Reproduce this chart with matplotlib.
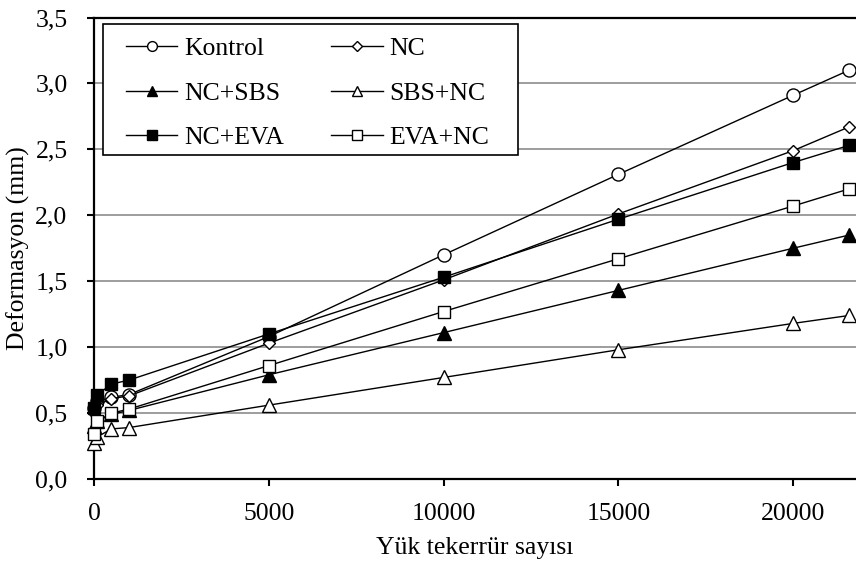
import matplotlib
matplotlib.use("Agg")
import matplotlib.pyplot as plt
from matplotlib.patches import Rectangle
from matplotlib.ticker import FuncFormatter

plt.rcParams["font.family"] = ["Liberation Serif", "DejaVu Serif"]

# load repetitions and measured deformation (mm)
cycles = [0, 100, 500, 1000, 5000, 10000, 15000, 20000, 21600]
kontrol = [0.54, 0.59, 0.62, 0.64, 1.08, 1.70, 2.31, 2.91, 3.10]
nc = [0.50, 0.56, 0.61, 0.63, 1.03, 1.51, 2.01, 2.49, 2.67]
nc_sbs = [0.40, 0.44, 0.49, 0.52, 0.79, 1.11, 1.43, 1.75, 1.85]
sbs_nc = [0.27, 0.32, 0.38, 0.39, 0.56, 0.77, 0.98, 1.18, 1.24]
nc_eva = [0.54, 0.64, 0.72, 0.75, 1.10, 1.53, 1.97, 2.40, 2.53]
eva_nc = [0.34, 0.44, 0.50, 0.53, 0.86, 1.27, 1.67, 2.07, 2.20]

series = [
    ("Kontrol", kontrol, "o", "white", 9.4),
    ("NC", nc, "D", "white", 6.4),
    ("NC+SBS", nc_sbs, "^", "black", 9.6),
    ("SBS+NC", sbs_nc, "^", "white", 9.6),
    ("NC+EVA", nc_eva, "s", "black", 9.2),
    ("EVA+NC", eva_nc, "s", "white", 9.2),
]

FS = 18.5
W, H = 856, 563

fig = plt.figure(figsize=(W / 100, H / 100), dpi=100)
ax = fig.add_axes([94 / W, 1 - 479 / H, 1 - 94 / W, (479 - 17.5) / H])

handles = {}
for label, vals, mk, face, ms in series:
    ln, = ax.plot(cycles, vals, "-", color="black", lw=1.0, marker=mk, ms=ms,
                  markerfacecolor=face, markeredgecolor="black", mew=1.0,
                  label=label, clip_on=False, zorder=3)
    handles[label] = ln

ax.set_xlim(0, 21800)
ax.set_ylim(0, 3.5)
ax.set_xticks([0, 5000, 10000, 15000, 20000])
ax.set_yticks([0, 0.5, 1.0, 1.5, 2.0, 2.5, 3.0, 3.5])
ax.yaxis.set_major_formatter(FuncFormatter(lambda v, p: f"{v:.1f}".replace(".", ",")))
ax.grid(axis="y", color="#8c8c8c", lw=1.2)
ax.set_axisbelow(True)
ax.tick_params(axis="both", direction="out", length=5, width=1.5,
               labelsize=FS, colors="black")
ax.tick_params(axis="x", pad=12)
ax.tick_params(axis="y", pad=14)
for sp in ("left", "bottom", "top"):
    ax.spines[sp].set_linewidth(1.6)
ax.spines["right"].set_visible(False)

ax.set_xlabel("Yük tekerrür sayısı", fontsize=FS, labelpad=9)
ax.set_ylabel("Deformasyon (mm)", fontsize=FS, labelpad=4)

# legend filled row-wise like the original (matplotlib fills by column)
order = ["Kontrol", "NC+SBS", "NC+EVA", "NC", "SBS+NC", "EVA+NC"]
leg = ax.legend([handles[k] for k in order], order, ncol=2, loc="upper left",
                bbox_to_anchor=(126 / W, 1 - 37 / H), bbox_transform=fig.transFigure,
                borderaxespad=0, borderpad=0, fontsize=FS, numpoints=1,
                markerscale=0.75, handlelength=2.0, handletextpad=0.25,
                columnspacing=1.86, labelspacing=0.84, frameon=False)
leg.set_zorder(6)
ax.add_patch(Rectangle((103 / W, 1 - 155 / H), (518 - 103) / W, (155 - 24) / H,
                       transform=fig.transFigure, facecolor="white",
                       edgecolor="black", lw=1.2, zorder=5, clip_on=False))

fig.savefig("out.png", dpi=100)
